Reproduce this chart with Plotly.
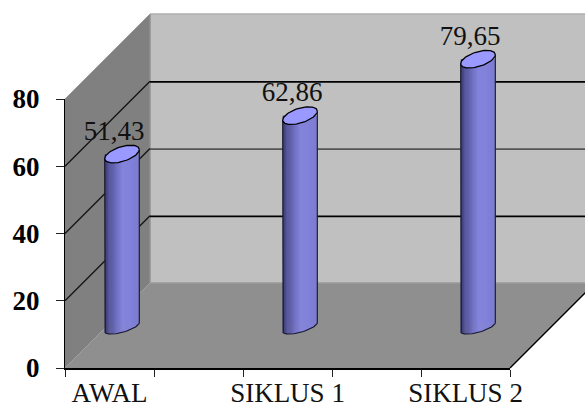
import numpy as np
import plotly.graph_objects as go

categories = ["AWAL", " ", "SIKLUS 1", "  ", "SIKLUS 2"]
values = [51.43, None, 62.86, None, 79.65]
value_labels = ["51,43", "", "62,86", "", "79,65"]
y_ticks = [0, 20, 40, 60, 80]
grid_values = [20, 40, 60]
grid_colors = ["#000000", "#555555", "#000000"]

W, H = 585, 410
X0, X1, Y0, Y80 = 65, 510, 368, 99      # front plane, pixels
DX, DY = 85, 85                         # depth of the box
BX, BY = 12.5, 41                       # depth of the bars
PX_PER_UNIT = (Y0 - Y80) / 80
PX_PER_CAT = (X1 - X0) / 5
A_PX, TILT_PX, B_TOP, B_BOT = 17.3, 4.5, 7.6, 5.5

px = lambda x: x / W
py = lambda y: 1 - y / H
ypx = lambda v: Y0 - v * PX_PER_UNIT

def poly(points, fill, line=None, lw=1):
    path = "M" + " L".join(f"{px(x):.5f},{py(y):.5f}" for x, y in points) + " Z"
    return dict(type="path", xref="paper", yref="paper", path=path, fillcolor=fill,
                line=dict(color=line or fill, width=lw), layer="below")

def seg(p, q, color, lw):
    return dict(type="line", xref="paper", yref="paper", x0=px(p[0]), y0=py(p[1]),
                x1=px(q[0]), y1=py(q[1]), line=dict(color=color, width=lw), layer="below")

shapes = [
    poly([(X0 + DX, Y80 - DY), (W + 5, Y80 - DY), (W + 5, Y0 - DY), (X0 + DX, Y0 - DY)], "#c0c0c0"),
    poly([(X0, Y80), (X0 + DX, Y80 - DY), (X0 + DX, Y0 - DY), (X0, Y0)], "#808080"),
    poly([(X0, Y0), (X1, Y0), (X1 + DX, Y0 - DY), (X0 + DX, Y0 - DY)], "#8f8f8f"),
    seg((X0 + DX, Y80 - DY), (W + 5, Y80 - DY), "#a6a6a6", 1.2),
    seg((X0 + DX, Y80 - DY), (X0 + DX, Y0 - DY), "#999999", 1),
    seg((X0 + DX, Y0 - DY), (W + 5, Y0 - DY), "#a0a0a0", 1),
    seg((X0, Y80), (X0 + DX, Y80 - DY), "#999999", 1),
    seg((X0, Y0), (X0 + DX, Y0 - DY), "#a0a0a0", 1),
    seg((X1, Y0), (X1 + DX, Y0 - DY), "#000000", 1.4),
]
for v in grid_values:
    shapes.append(seg((X0, ypx(v)), (X0 + DX, ypx(v) - DY), "#111111", 1.3))

fig = go.Figure()

# back wall gridlines
for v, c in zip(grid_values, grid_colors):
    fig.add_trace(go.Scatter(x=[0, 1], y=[v, v], mode="lines", line=dict(color=c, width=1.8),
                             xaxis="x", yaxis="y", showlegend=False, hoverinfo="skip"))

xs = [i for i, v in enumerate(values) if v is not None]
vs = [values[i] for i in xs]
half = A_PX / PX_PER_CAT

# solid backing so that nothing shows between the gradient strips
backing = TILT_PX / PX_PER_UNIT
fig.add_trace(go.Bar(
    x=xs, y=[v - backing for v in vs], base=[backing] * len(vs), width=2 * half * 0.96,
    marker=dict(color="#7c7cd0", line=dict(width=0)),
    xaxis="x2", yaxis="y2", showlegend=False, hoverinfo="skip"))

# gradient strips that make up each cylinder
n = 30
stops_u = [-1, -0.7, -0.3, 0.05, 0.5, 1]
stops_c = np.array([[60, 60, 115], [86, 86, 155], [112, 112, 195], [133, 133, 222], [130, 130, 220], [124, 124, 205]])
for k in range(n):
    u = -1 + (k + 0.5) * 2 / n
    col = [int(np.interp(u, stops_u, stops_c[:, c])) for c in range(3)]
    base = (TILT_PX * u - B_BOT * np.sqrt(1 - u * u)) / PX_PER_UNIT
    fig.add_trace(go.Bar(
        x=xs, y=[v - base for v in vs], base=[base] * len(vs),
        width=2 * half / n * 1.25, offset=u * half - half / n,
        marker=dict(color=f"rgb({col[0]},{col[1]},{col[2]})", line=dict(width=0)),
        xaxis="x2", yaxis="y2", showlegend=False, hoverinfo="skip"))

# outlines and elliptical tops
t_low = np.linspace(np.pi, 2 * np.pi, 40)
t_all = np.linspace(0, 2 * np.pi, 80)
for x, v in zip(xs, vs):
    ox = x + half * np.cos(t_low)
    oy = (TILT_PX * np.cos(t_low) + B_BOT * np.sin(t_low)) / PX_PER_UNIT
    ox = np.r_[x - half, ox, x + half]
    oy = np.r_[v - TILT_PX / PX_PER_UNIT, oy, v + TILT_PX / PX_PER_UNIT]
    fig.add_trace(go.Scatter(x=ox, y=oy, mode="lines", line=dict(color="#15152a", width=1.1),
                             xaxis="x2", yaxis="y2", showlegend=False, hoverinfo="skip"))
    ex = x + half * np.cos(t_all)
    ey = v + (TILT_PX * np.cos(t_all) + B_TOP * np.sin(t_all)) / PX_PER_UNIT
    fig.add_trace(go.Scatter(x=ex, y=ey, mode="lines", fill="toself", fillcolor="#9999ff",
                             line=dict(color="#000000", width=1.3),
                             xaxis="x2", yaxis="y2", showlegend=False, hoverinfo="skip"))

# data labels
fig.add_trace(go.Scatter(
    x=[x - 8 / PX_PER_CAT for x in xs], y=[v + 21 / PX_PER_UNIT for v in vs],
    text=[value_labels[i] for i in xs], mode="text", textposition="middle center",
    textfont=dict(family="Liberation Serif", size=27, color="#111111"),
    xaxis="x2", yaxis="y2", showlegend=False, hoverinfo="skip"))

# front plane carries the real axes
fig.add_trace(go.Scatter(x=categories, y=values, mode="markers", marker=dict(opacity=0),
                         xaxis="x3", yaxis="y3", showlegend=False, hoverinfo="skip"))

hidden = dict(visible=False, showgrid=False, zeroline=False, automargin=False)
bar_lo, bar_hi = -6, 96
fig.update_layout(
    template="none",
    width=W, height=H, autosize=False,
    margin=dict(l=0, r=0, t=0, b=0, pad=0),
    paper_bgcolor="#ffffff", plot_bgcolor="rgba(0,0,0,0)",
    barmode="overlay", hovermode=False, showlegend=False, shapes=shapes,
    font=dict(family="Liberation Serif", color="#000000"),
    xaxis=dict(domain=[px(X0 + DX), 1], range=[0, 1], **hidden),
    yaxis=dict(domain=[py(Y0 - DY + 0.6), py(Y80 - DY + 0.6)], range=[0, 80], **hidden),
    xaxis2=dict(domain=[px(X0 + BX), px(X1 + BX)], range=[-0.5, 4.5], anchor="y2", **hidden),
    yaxis2=dict(domain=[py(Y0 - BY - bar_lo * PX_PER_UNIT), py(Y0 - BY - bar_hi * PX_PER_UNIT)],
                range=[bar_lo, bar_hi], anchor="x2", **hidden),
    xaxis3=dict(domain=[px(X0), px(X1)], type="category", categoryorder="array",
                categoryarray=categories, range=[-0.5, 4.5], anchor="y3", tickson="boundaries",
                ticks="outside", ticklen=7, tickwidth=1, tickcolor="#222222", tickangle=0,
                showline=True, linecolor="#000000", linewidth=2, showgrid=False, zeroline=False,
                automargin=False, ticklabelstandoff=0,
                tickfont=dict(family="Liberation Serif", size=27, color="#111111")),
    yaxis3=dict(domain=[py(Y0), py(Y80)], range=[0, 80], tickvals=y_ticks, anchor="x3",
                ticks="outside", ticklen=8, tickwidth=1, tickcolor="#222222",
                showline=True, linecolor="#000000", linewidth=1, showgrid=False, zeroline=False,
                ticklabelstandoff=11, automargin=False,
                tickfont=dict(family="Liberation Serif", size=27, color="#000000", weight="bold")),
)
fig.write_html("out.html", post_script="document.body.style.margin='0';",
               config=dict(displayModeBar=False, staticPlot=True))
